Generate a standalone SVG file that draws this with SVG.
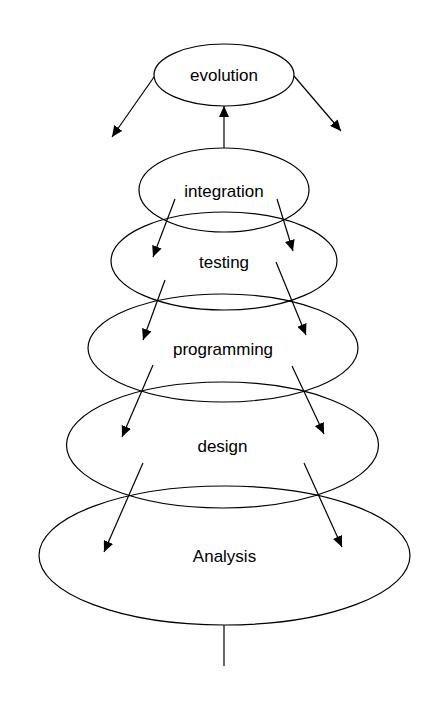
<svg xmlns="http://www.w3.org/2000/svg" width="440" height="705" viewBox="0 0 440 705">
<style>
.n ellipse{fill:none;stroke:#000;stroke-width:1.2}
.n text{font-family:"Liberation Sans",Arial,sans-serif;font-size:17px;fill:#000;text-anchor:middle}
.c line{stroke:#000;stroke-width:1.2}
.c line.a{marker-end:url(#ah)}
</style>
<defs>
<marker id="ah" markerUnits="userSpaceOnUse" markerWidth="12" markerHeight="10" refX="11" refY="5" orient="auto">
<path d="M0,0 L11,5 L0,10 Z" fill="#000"/>
</marker>
</defs>
<rect width="440" height="705" fill="#fff"/>
<g id="evolution" class="n"><ellipse cx="224" cy="75" rx="70" ry="31"/><text x="224" y="81">evolution</text></g>
<g id="integration" class="n"><ellipse cx="224" cy="190" rx="85" ry="42"/><text x="224" y="196.5">integration</text></g>
<g id="testing" class="n"><ellipse cx="224" cy="261" rx="113" ry="49"/><text x="224" y="267.5">testing</text></g>
<g id="programming" class="n"><ellipse cx="223" cy="348" rx="135" ry="54"/><text x="223" y="354.5">programming</text></g>
<g id="design" class="n"><ellipse cx="222.5" cy="445" rx="156" ry="63"/><text x="222.5" y="451.5">design</text></g>
<g id="analysis" class="n"><ellipse cx="224.5" cy="555.5" rx="185.5" ry="69.5"/><text x="224.5" y="561.5">Analysis</text></g>
<g id="connectors" class="c">
<line class="a" x1="224" y1="148" x2="224" y2="106"/>
<line class="a" x1="154" y1="77" x2="112" y2="137"/>
<line class="a" x1="294" y1="76" x2="341" y2="131"/>
<line class="a" x1="175" y1="199" x2="153" y2="257"/>
<line class="a" x1="277" y1="199" x2="293" y2="251"/>
<line class="a" x1="165" y1="280" x2="143" y2="340"/>
<line class="a" x1="276" y1="262" x2="306" y2="335"/>
<line class="a" x1="153" y1="365" x2="122" y2="437"/>
<line class="a" x1="292" y1="366" x2="324" y2="434"/>
<line class="a" x1="143" y1="463" x2="104" y2="552"/>
<line class="a" x1="304" y1="463" x2="342" y2="547"/>
<line x1="224" y1="625" x2="224" y2="666"/>
</g>
</svg>
